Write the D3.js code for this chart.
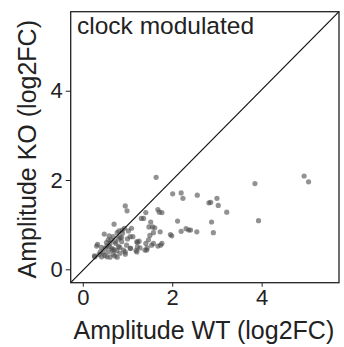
<!DOCTYPE html>
<html>
<head>
<meta charset="utf-8">
<script src="https://cdn.jsdelivr.net/npm/d3@7"></script>
<style>
  body { margin: 0; background: #fff; }
  text { font-family: "Liberation Sans", Arial, sans-serif; fill: #222; }
</style>
</head>
<body>
<svg id="chart" width="344" height="347"></svg>
<script>
// amplitude WT (log2FC), x
const ampWT = [
  4.95, 5.05, 3.85, 3.93, 3.00, 3.03, 3.22, 2.88, 2.92, 2.82, 2.86,
  1.64, 2.01, 2.20, 2.24, 2.56, 0.95, 0.99, 1.68, 1.71, 1.77, 1.41, 1.31, 1.36,
  2.12, 0.70, 1.52, 1.48, 1.56, 1.61, 1.73, 1.58, 2.20, 2.31, 2.37, 2.41, 2.55,
  1.96, 1.99, 1.09, 0.93, 0.81, 1.02, 0.89, 1.06, 0.77, 0.59, 0.48, 0.68, 0.83,
  1.50, 1.47, 1.26, 1.22, 1.74, 1.68, 1.41, 1.44, 1.39, 1.28, 1.19, 1.07, 0.98,
  0.87, 0.72, 0.61, 0.31, 0.42, 0.54, 0.65, 0.83, 0.91, 0.76, 0.57, 0.46, 0.39,
  0.26, 0.42, 0.54, 0.61, 0.72, 0.77, 0.68, 0.83, 0.95, 0.50, 0.33, 0.53, 0.63,
  0.87, 0.74, 0.59, 0.80, 0.66, 1.06, 0.95, 0.27, 1.21, 1.21, 1.43, 1.54, 1.77,
  1.12, 0.80, 0.57, 0.70, 1.00, 0.88, 1.58, 1.22, 0.36, 0.49
];
// amplitude KO (log2FC), y
const ampKO = [
  2.09, 1.96, 1.92, 1.09, 1.59, 1.43, 1.28, 1.06, 0.82, 1.49, 1.50,
  2.06, 1.69, 1.71, 1.59, 1.66, 1.42, 1.31, 1.34, 1.28, 1.27, 1.27, 1.14, 1.14,
  1.08, 1.01, 1.06, 0.95, 0.95, 0.93, 0.84, 0.82, 0.85, 0.91, 0.88, 0.88, 0.84,
  0.78, 0.75, 0.92, 0.92, 0.86, 0.86, 0.81, 0.73, 0.82, 0.75, 0.79, 0.73, 0.72,
  0.76, 0.66, 0.63, 0.60, 0.54, 0.52, 0.58, 0.48, 0.43, 0.48, 0.42, 0.47, 0.54,
  0.62, 0.62, 0.58, 0.52, 0.49, 0.52, 0.47, 0.49, 0.43, 0.42, 0.39, 0.37, 0.39,
  0.30, 0.28, 0.28, 0.27, 0.30, 0.27, 0.34, 0.36, 0.34, 0.47, 0.56, 0.60, 0.66,
  0.71, 0.58, 0.51, 0.51, 0.43, 0.47, 0.39, 0.28, 0.62, 0.39, 0.43, 0.54, 0.58,
  0.73, 0.68, 0.66, 0.44, 0.68, 0.88, 0.58, 0.50, 0.33, 0.31
];
const xTicks = [0, 2, 4];
const yTicks = [0, 2, 4];
const panelLabel = "clock modulated";
const xTitle = "Amplitude WT (log2FC)";
const yTitle = "Amplitude KO (log2FC)";

const svg = d3.select("#chart");
const plotL = 70.7, plotR = 339, plotT = 11.7, plotB = 282.7;

const x = d3.scaleLinear().domain([-0.27, 5.73]).range([plotL, plotR]);
const y = d3.scaleLinear().domain([-0.3, 5.77]).range([plotB, plotT]);

// points
const pts = ampWT.map((d, i) => ({ wt: d, ko: ampKO[i] }));
svg.append("g")
  .selectAll("circle")
  .data(pts)
  .enter()
  .append("circle")
  .attr("cx", d => x(d.wt))
  .attr("cy", d => y(d.ko))
  .attr("r", 2.6)
  .attr("fill", "#4a4a4a")
  .attr("fill-opacity", 0.6);

// identity line, corner to corner
svg.append("line")
  .attr("x1", x(x.domain()[0])).attr("y1", y(y.domain()[0]))
  .attr("x2", x(x.domain()[1])).attr("y2", y(y.domain()[1]))
  .attr("stroke", "#111")
  .attr("stroke-width", 1.2);

// panel border
svg.append("rect")
  .attr("x", plotL).attr("y", plotT)
  .attr("width", plotR - plotL).attr("height", plotB - plotT)
  .attr("fill", "none")
  .attr("stroke", "#222")
  .attr("stroke-width", 1.3);

// axes
const xAxis = svg.append("g")
  .attr("transform", "translate(0," + plotB + ")")
  .call(d3.axisBottom(x).tickValues(xTicks).tickSize(4).tickPadding(3).tickFormat(d3.format("d")));
const yAxis = svg.append("g")
  .attr("transform", "translate(" + plotL + ",0)")
  .call(d3.axisLeft(y).tickValues(yTicks).tickSize(5).tickPadding(3).tickFormat(d3.format("d")));
[xAxis, yAxis].forEach(g => {
  g.select(".domain").remove();
  g.selectAll(".tick line").attr("stroke", "#222");
  g.selectAll(".tick text").style("font-size", "22px").attr("fill", "#222")
    .style("font-family", '"Liberation Sans", Arial, sans-serif');
});

// titles
svg.append("text")
  .attr("x", 77).attr("y", 34)
  .style("font-size", "24.5px")
  .text(panelLabel);

svg.append("text")
  .attr("x", (plotL + plotR) / 2 - 1).attr("y", 339)
  .attr("text-anchor", "middle")
  .style("font-size", "25px")
  .text(xTitle);

svg.append("text")
  .attr("transform", "translate(36," + ((plotT + plotB) / 2 + 2) + ") rotate(-90)")
  .attr("text-anchor", "middle")
  .style("font-size", "25px")
  .text(yTitle);
</script>
</body>
</html>
